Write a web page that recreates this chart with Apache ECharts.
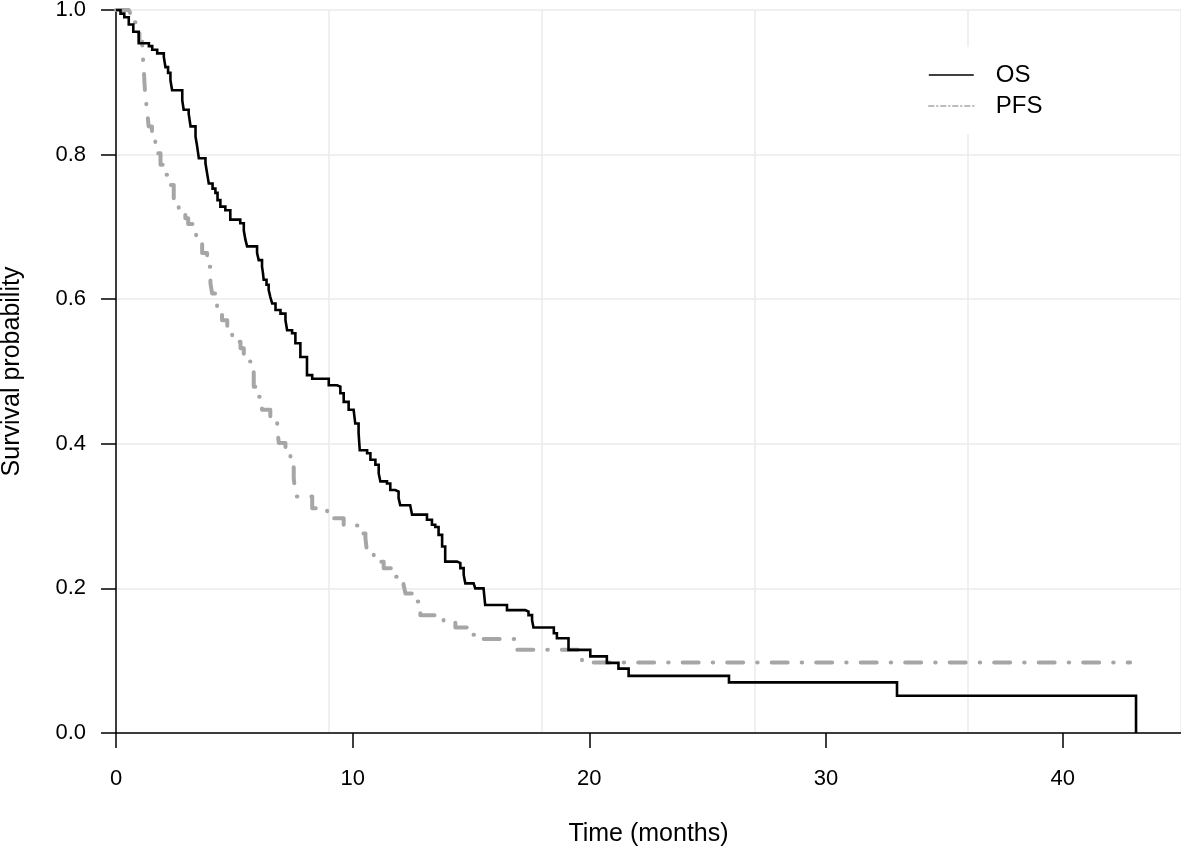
<!DOCTYPE html>
<html>
<head>
<meta charset="utf-8">
<script src="https://cdn.jsdelivr.net/npm/echarts@6/dist/echarts.min.js"></script>
<style>
html,body{margin:0;padding:0;background:#fff;}
#chart{width:1181px;height:856px;}
</style>
</head>
<body>
<div id="chart"></div>
<script>
// Kaplan-Meier step data (time in months, survival probability)
const osTime = [0, 0.19, 0.35, 0.54, 0.73, 0.96, 1.39, 1.53, 1.74, 2.02, 2.09, 2.20, 2.30, 2.37, 2.80, 2.86, 3.07, 3.15, 3.36, 3.43, 3.50, 3.78, 3.85, 3.92, 4.08, 4.20, 4.29, 4.41, 4.62, 4.83, 5.25, 5.40, 5.47, 5.54, 5.96, 6.03, 6.17, 6.21, 6.24, 6.36, 6.45, 6.52, 6.60, 6.74, 6.95, 7.16, 7.23, 7.44, 7.58, 7.79, 8.07, 8.29, 8.99, 9.34, 9.48, 9.62, 9.83, 10.04, 10.11, 10.25, 10.30, 10.61, 10.75, 10.96, 11.10, 11.17, 11.45, 11.59, 11.80, 11.94, 12.01, 12.43, 12.51, 13.14, 13.35, 13.49, 13.63, 13.78, 13.91, 14.41, 14.55, 14.69, 14.76, 15.11, 15.18, 15.53, 15.60, 16.52, 17.29, 17.43, 17.58, 17.64, 18.50, 18.63, 19.12, 20.04, 20.74, 21.23, 21.66, 25.90, 33.00, 43.10];
const osSurv = [1.0, 0.995, 0.99, 0.98, 0.97, 0.954, 0.95, 0.945, 0.94, 0.935, 0.921, 0.913, 0.903, 0.889, 0.875, 0.862, 0.857, 0.839, 0.825, 0.811, 0.795, 0.788, 0.774, 0.76, 0.753, 0.747, 0.737, 0.728, 0.723, 0.71, 0.705, 0.695, 0.682, 0.673, 0.664, 0.654, 0.645, 0.636, 0.627, 0.62, 0.613, 0.603, 0.594, 0.585, 0.58, 0.571, 0.557, 0.553, 0.539, 0.52, 0.495, 0.49, 0.481, 0.479, 0.47, 0.458, 0.447, 0.445, 0.428, 0.415, 0.391, 0.387, 0.378, 0.371, 0.359, 0.348, 0.345, 0.336, 0.334, 0.325, 0.315, 0.313, 0.302, 0.295, 0.288, 0.285, 0.274, 0.258, 0.237, 0.235, 0.228, 0.219, 0.207, 0.205, 0.2, 0.198, 0.177, 0.17, 0.168, 0.163, 0.156, 0.146, 0.138, 0.131, 0.115, 0.106, 0.097, 0.089, 0.079, 0.07, 0.0515, 0];

const pfsTime = [0, 0.54, 0.61, 0.74, 0.90, 0.99, 1.11, 1.17, 1.20, 1.24, 1.31, 1.38, 1.52, 1.66, 1.88, 2.09, 2.30, 2.44, 2.65, 2.93, 3.05, 3.36, 3.43, 3.64, 3.85, 3.99, 4.06, 4.27, 4.48, 4.70, 4.91, 5.26, 5.40, 5.68, 5.82, 5.96, 6.17, 6.52, 6.81, 6.88, 7.16, 7.37, 7.51, 7.58, 7.62, 8.29, 8.92, 9.06, 9.62, 10.32, 10.54, 10.61, 10.89, 11.31, 11.66, 12.15, 12.23, 12.65, 12.86, 13.84, 14.34, 14.83, 15.25, 16.87, 19.69, 42.85];
const pfsSurv = [1.0, 0.998, 0.995, 0.983, 0.968, 0.956, 0.945, 0.922, 0.901, 0.88, 0.862, 0.839, 0.82, 0.802, 0.786, 0.772, 0.758, 0.737, 0.721, 0.712, 0.704, 0.696, 0.677, 0.664, 0.645, 0.622, 0.608, 0.59, 0.571, 0.557, 0.541, 0.532, 0.514, 0.5, 0.479, 0.465, 0.447, 0.433, 0.421, 0.401, 0.385, 0.373, 0.352, 0.332, 0.327, 0.311, 0.306, 0.297, 0.287, 0.276, 0.269, 0.249, 0.237, 0.228, 0.216, 0.205, 0.193, 0.182, 0.163, 0.154, 0.146, 0.136, 0.13, 0.115, 0.0975, 0.0975];

const seriesNames = ['OS', 'PFS'];
const xTickValues = [0, 10, 20, 30, 40];
const yTickValues = [0, 0.2, 0.4, 0.6, 0.8, 1.0];

const zip = (a, b) => a.map((v, i) => [v, b[i]]);

const FONT = 'Liberation Sans, Arial, Helvetica, sans-serif';
const chart = echarts.init(document.getElementById('chart'), null, {renderer: 'canvas'});

chart.setOption({
  animation: false,
  backgroundColor: '#ffffff',
  grid: {left: 116, right: 0, top: 10, bottom: 123, containLabel: false, outerBoundsMode: 'none'},
  legend: {
    show: true,
    left: 906,
    top: 47,
    orient: 'vertical',
    backgroundColor: '#ffffff',
    padding: [16, 22, 16, 22],
    itemWidth: 45,
    itemHeight: 20,
    itemGap: 7,
    textStyle: {fontFamily: FONT, fontSize: 24, color: '#000', padding: [0, 0, 0, 17]},
    data: [
      {name: 'OS', itemStyle: {opacity: 0}, lineStyle: {color: '#000', width: 1.6, type: 'solid', opacity: 1}},
      {name: 'PFS', itemStyle: {opacity: 0}, lineStyle: {color: '#a6a6a6', width: 1.6, type: [5, 3, 1, 3], opacity: 1}}
    ]
  },
  xAxis: [
    {
      type: 'value', min: 0, max: 45, interval: 10,
      name: 'Time (months)', nameLocation: 'middle', nameGap: 89,
      nameTextStyle: {fontFamily: FONT, fontSize: 25, color: '#000'},
      axisLine: {show: true, lineStyle: {color: '#000', width: 1.5}},
      axisTick: {show: true, length: 15, lineStyle: {color: '#000', width: 1.5}, customValues: xTickValues},
      axisLabel: {fontFamily: FONT, fontSize: 22, color: '#000', margin: 35, customValues: xTickValues},
      splitLine: {show: false}
    },
    {
      type: 'value', min: 0, max: 45, interval: 9, position: 'bottom',
      axisLine: {show: false}, axisTick: {show: false}, axisLabel: {show: false},
      splitLine: {show: true, lineStyle: {color: '#ebebeb', width: 1.5}}
    }
  ],
  yAxis: {
    type: 'value', min: 0, max: 1, interval: 0.2,
    name: 'Survival probability', nameLocation: 'middle', nameGap: 91,
    nameTextStyle: {fontFamily: FONT, fontSize: 25, color: '#000'},
    axisLine: {show: true, lineStyle: {color: '#000', width: 1.5}},
    axisTick: {show: true, length: 15, lineStyle: {color: '#000', width: 1.5}},
    axisLabel: {fontFamily: FONT, fontSize: 22, color: '#000', margin: 30,
      formatter: v => yTickValues.some(t => Math.abs(t - v) < 1e-9) ? v.toFixed(1) : ''},
    splitLine: {show: true, lineStyle: {color: '#ebebeb', width: 1.5}}
  },
  series: [
    {
      name: seriesNames[1], type: 'line', step: 'end', showSymbol: false, symbol: 'none',
      xAxisIndex: 0, z: 2,
      itemStyle: {color: '#a6a6a6'},
      data: zip(pfsTime, pfsSurv),
      lineStyle: {color: '#a6a6a6', width: 4, type: [16, 14, 0.5, 14], cap: 'round', join: 'round'}
    },
    {
      name: seriesNames[0], type: 'line', step: 'end', showSymbol: false, symbol: 'none',
      xAxisIndex: 0, z: 3,
      itemStyle: {color: '#000'},
      data: zip(osTime, osSurv),
      lineStyle: {color: '#000', width: 2.6, type: 'solid', join: 'miter'}
    }
  ]
});
</script>
</body>
</html>
